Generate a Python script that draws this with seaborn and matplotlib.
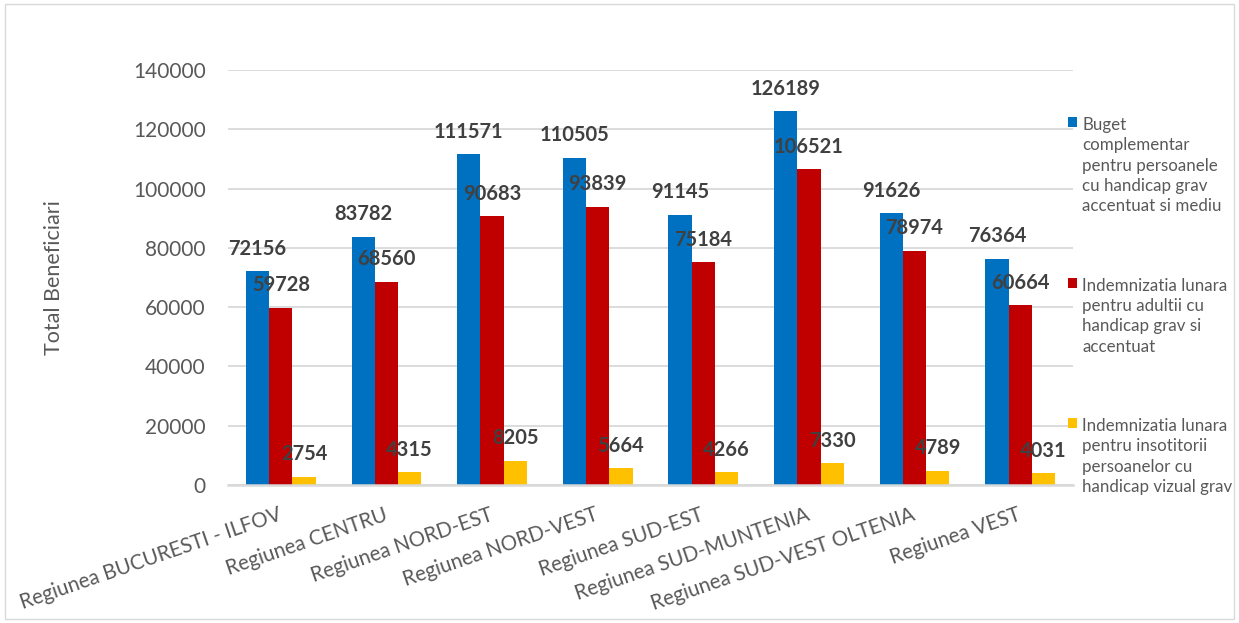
import pandas as pd
import matplotlib.pyplot as plt
import seaborn as sns
from matplotlib.patches import Rectangle

sns.set_style("whitegrid", {"grid.color": "#D9D9D9", "axes.edgecolor": "#D9D9D9"})
plt.rcParams['font.family'] = ['Lato', 'DejaVu Sans']

regions = ["Regiunea BUCURESTI - ILFOV", "Regiunea CENTRU", "Regiunea NORD-EST",
           "Regiunea NORD-VEST", "Regiunea SUD-EST", "Regiunea SUD-MUNTENIA",
           "Regiunea SUD-VEST OLTENIA", "Regiunea VEST"]
series = ["Buget\ncomplementar\npentru persoanele\ncu handicap grav\naccentuat si mediu",
          "Indemnizatia lunara\npentru adultii cu\nhandicap grav si\naccentuat",
          "Indemnizatia lunara\npentru insotitorii\npersoanelor cu\nhandicap vizual grav"]
buget = [72156, 83782, 111571, 110505, 91145, 126189, 91626, 76364]
adulti = [59728, 68560, 90683, 93839, 75184, 106521, 78974, 60664]
insotitori = [2754, 4315, 8205, 5664, 4266, 7330, 4789, 4031]
colors = ["#0070C0", "#C00000", "#FFC000"]

df = pd.DataFrame({'regiune': regions * 3,
                   'serie': [series[0]] * 8 + [series[1]] * 8 + [series[2]] * 8,
                   'valoare': buget + adulti + insotitori})

fig = plt.figure(figsize=(12.39, 6.23), dpi=100)
ax = fig.add_axes([0.184, 0.2215, 0.682, 0.666])
sns.barplot(data=df, x='regiune', y='valoare', hue='serie', palette=colors,
            saturation=1, width=0.66, linewidth=0, ax=ax)

for c in ax.containers:
    ax.bar_label(c, fmt='%d', padding=9, fontsize=14.5, fontweight='bold', color='#404040')

ax.set_ylim(0, 140000)
ax.set_yticks(range(0, 140001, 20000))
ax.set_xlim(-0.5, 7.5)
ax.grid(axis='x', visible=False)
ax.grid(axis='y', color='#D9D9D9', linewidth=1.3)
sns.despine(ax=ax, left=True, top=True, right=True)
ax.spines['bottom'].set_color('#D9D9D9')
ax.spines['bottom'].set_linewidth(1.8)
ax.tick_params(axis='y', length=0, pad=16, labelsize=15, labelcolor='#595959')
ax.tick_params(axis='x', length=0, pad=21, labelsize=14.8, labelcolor='#595959')
plt.setp(ax.get_xticklabels(), rotation=19, ha='right', va='center', rotation_mode='anchor')
ax.set_xlabel('')
ax.set_ylabel('Total Beneficiari', fontsize=15.5, color='#595959', labelpad=50)

handles, labels = ax.get_legend_handles_labels()
ax.get_legend().remove()
leg = fig.legend(handles, labels, loc='upper left', bbox_to_anchor=(1068 / 1239, 1 - 117 / 623),
                 frameon=False, fontsize=12.2, handlelength=0.55, handleheight=0.55,
                 handletextpad=0.3, labelspacing=3.75, borderaxespad=0, borderpad=0)
for t in leg.get_texts():
    t.set_color('#595959')
    t.set_linespacing(1.33)
for col in leg._legend_handle_box.get_children():
    for row in col.get_children():
        row.align = 'top'

fig.patches.append(Rectangle((0.004, 0.006), 0.992, 0.988, transform=fig.transFigure,
                             fill=False, edgecolor='#D9D9D9', linewidth=1))

plt.savefig('out.png', dpi=100)
